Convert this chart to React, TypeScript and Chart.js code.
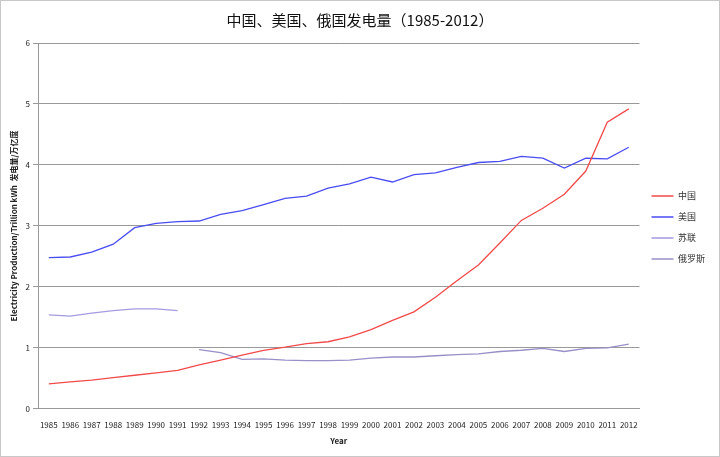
import React, { useEffect, useRef } from "react";
import { Chart, registerables } from "chart.js";
Chart.register(...registerables);

const years = Array.from({ length: 28 }, (_, i) => String(1985 + i));
const china = [0.41,0.44,0.47,0.51,0.55,0.59,0.63,0.72,0.80,0.88,0.96,1.01,1.07,1.10,1.18,1.30,1.45,1.59,1.83,2.10,2.36,2.72,3.09,3.29,3.52,3.90,4.70,4.92];
const usa = [2.48,2.49,2.57,2.70,2.97,3.04,3.07,3.08,3.19,3.25,3.35,3.45,3.49,3.62,3.69,3.80,3.72,3.84,3.87,3.96,4.04,4.06,4.14,4.11,3.95,4.11,4.10,4.29];
const ussr = [1.54,1.52,1.57,1.61,1.64,1.64,1.61,null,null,null,null,null,null,null,null,null,null,null,null,null,null,null,null,null,null,null,null,null];
const russia = [null,null,null,null,null,null,null,0.97,0.92,0.81,0.82,0.80,0.79,0.79,0.80,0.83,0.85,0.85,0.87,0.89,0.90,0.94,0.96,0.99,0.94,0.99,1.00,1.06];

export default function App() {
  const ref = useRef<HTMLCanvasElement>(null);
  useEffect(() => {
    document.body.style.margin = "0";
    const font = "'Noto Sans CJK SC', 'DejaVu Sans', sans-serif";
    const mk = (label: string, data: any[], color: string) => ({
      label, data, borderColor: color, backgroundColor: color, borderWidth: 1.3, pointRadius: 0, tension: 0, spanGaps: false,
    });
    const chart = new Chart(ref.current!, {
      type: "line",
      data: {
        labels: years,
        datasets: [
          mk("中国", china, "#f24a4a"),
          mk("美国", usa, "#4a4cf2"),
          mk("苏联", ussr, "#a49be0"),
          mk("俄罗斯", russia, "#9890c8"),
        ],
      },
      options: {
        animation: false,
        responsive: false,
        layout: { padding: { top: 4, right: 4, bottom: 6, left: 4 } },
        plugins: {
          title: { display: true, text: "中国、美国、俄国发电量（1985-2012）", color: "#111", font: { family: font, size: 15, weight: "normal" }, padding: { top: 6, bottom: 14 } },
          legend: {
            position: "right",
            labels: { boxWidth: 22, boxHeight: 0, font: { family: font, size: 9 }, color: "#333", padding: 12 },
          },
          tooltip: { enabled: false },
        },
        scales: {
          x: {
            offset: true,
            grid: { display: false },
            border: { color: "#999" },
            ticks: { font: { family: font, size: 8 }, color: "#222", maxRotation: 0, autoSkip: false },
            title: { display: true, text: "Year", font: { family: font, size: 8, weight: "bold" }, color: "#222" },
          },
          y: {
            min: 0, max: 6,
            ticks: { stepSize: 1, font: { family: font, size: 8 }, color: "#222" },
            grid: { color: "#999", tickLength: 5 },
            border: { color: "#999" },
            title: { display: true, text: "Electricity Production/Trillion kWh  发电量/万亿度", font: { family: font, size: 8, weight: "bold" }, color: "#222" },
          },
        },
      },
    });
    return () => chart.destroy();
  }, []);
  return (
    <div style={{ width: 718, height: 455, border: "1px solid #c8c8c8", background: "#fff" }}>
      <canvas ref={ref} width={718} height={455} />
    </div>
  );
}
